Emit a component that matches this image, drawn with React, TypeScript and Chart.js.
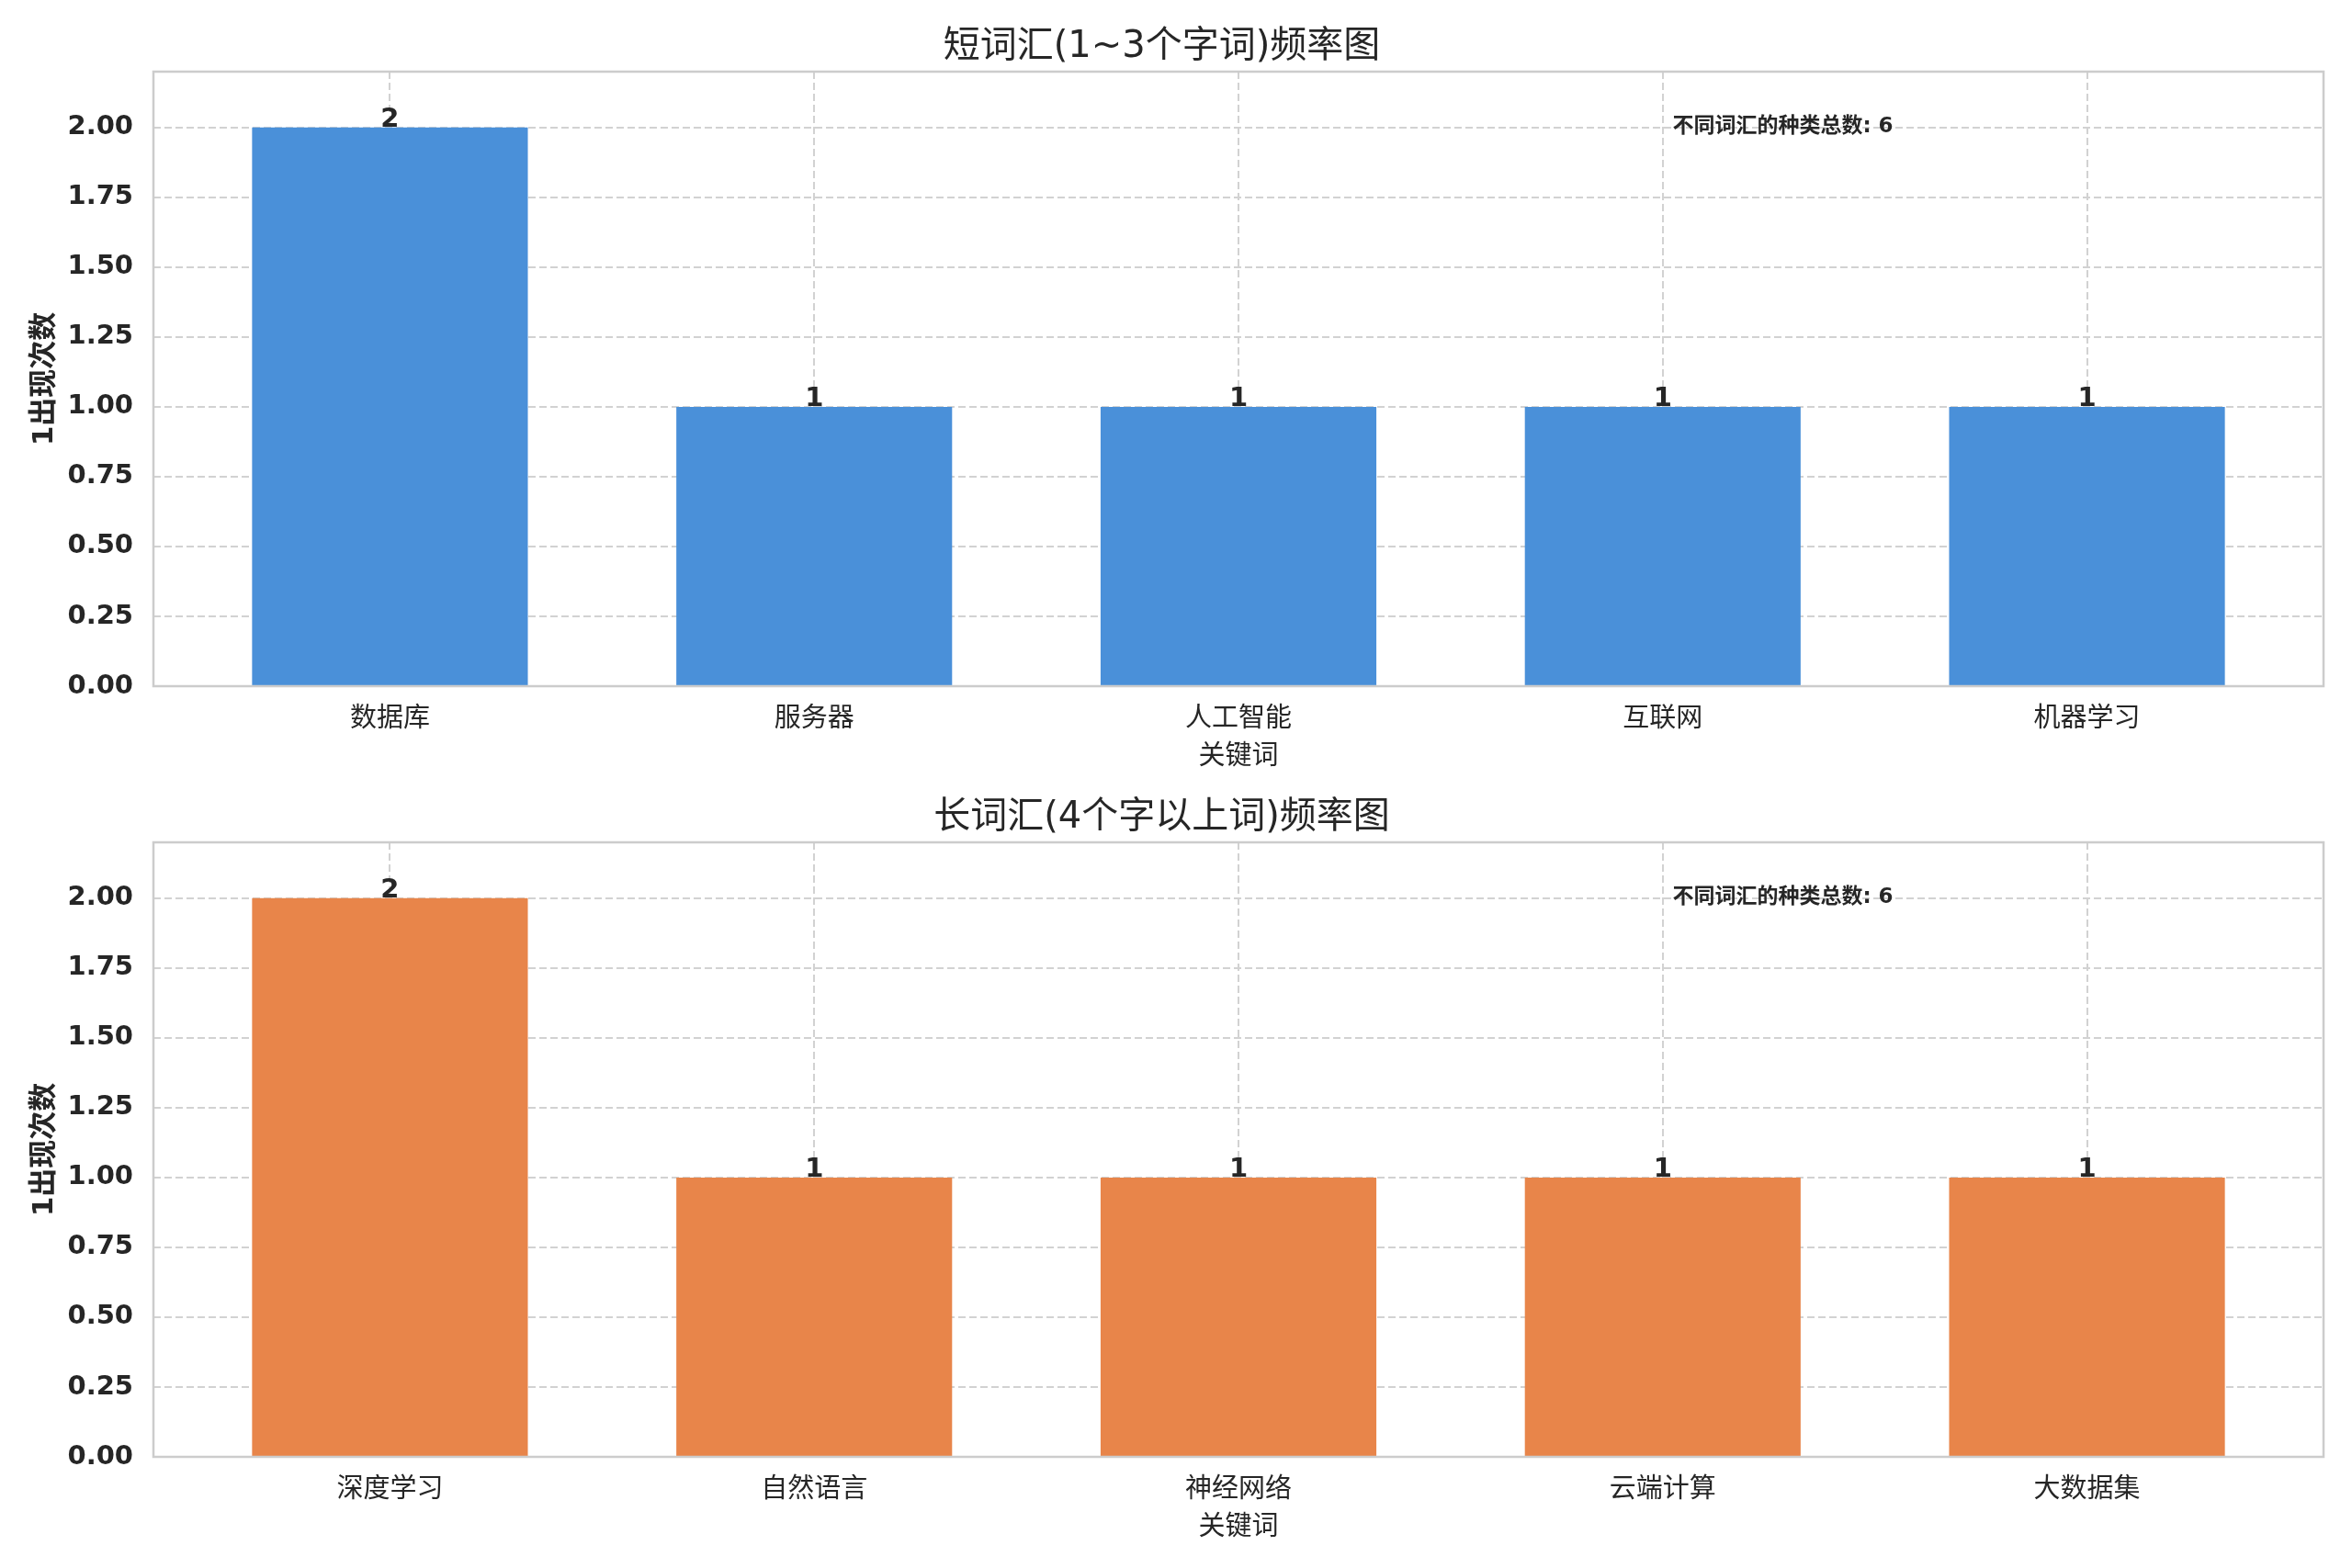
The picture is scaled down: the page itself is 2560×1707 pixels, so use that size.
import { useEffect, useRef } from "react"
import { Chart, registerables } from "chart.js"

Chart.register(...registerables)

// Chart data
const shortWords = ["数据库", "服务器", "人工智能", "互联网", "机器学习"]
const shortCounts = [2, 1, 1, 1, 1]
const longWords = ["深度学习", "自然语言", "神经网络", "云端计算", "大数据集"]
const longCounts = [2, 1, 1, 1, 1]
const yTicks = [0, 0.25, 0.5, 0.75, 1.0, 1.25, 1.5, 1.75, 2.0]

const shortTitle = "短词汇(1~3个字词)频率图"
const longTitle = "长词汇(4个字以上词)频率图"
const xAxisLabel = "关键词"
const yAxisLabel = "1出现次数"
const totalLabel = "不同词汇的种类总数"
const totalShort = 6
const totalLong = 6

const FONT = "'DejaVu Sans', 'Noto Sans CJK SC', sans-serif"
const TEXT = "#262626"
const GRID = "#d2d2d2"

// draws the full axes frame, the value labels and the note
const extrasPlugin = {
  id: "extras",
  afterDatasetsDraw(chart: any, _args: any, opts: any) {
    const ctx = chart.ctx
    const meta = chart.getDatasetMeta(0)
    const values = chart.data.datasets[0].data
    ctx.save()
    ctx.fillStyle = TEXT
    ctx.font = `bold 29px ${FONT}`
    ctx.textAlign = "center"
    ctx.textBaseline = "alphabetic"
    meta.data.forEach((bar: any, i: number) => {
      ctx.fillText(String(values[i].y), bar.x, bar.y - 1)
    })
    const { left, right, top, bottom } = chart.chartArea
    ctx.font = `bold 23px ${FONT}`
    ctx.textAlign = "left"
    ctx.textBaseline = "middle"
    ctx.fillText(`${totalLabel}: ${opts.total}`, left + 0.7 * (right - left), bottom - 0.91 * (bottom - top))
    ctx.strokeStyle = "#cccccc"
    ctx.lineWidth = 2.5
    ctx.strokeRect(left, top, right - left, bottom - top)
    ctx.restore()
  },
}

function BarPanel({ labels, counts, color, title, total, top }: any) {
  const canvasRef = useRef<HTMLCanvasElement>(null)
  const chartRef = useRef<Chart | null>(null)

  useEffect(() => {
    if (!canvasRef.current) return
    if (chartRef.current) chartRef.current.destroy()
    chartRef.current = new Chart(canvasRef.current, {
      type: "bar",
      data: {
        datasets: [
          {
            data: counts.map((v: number, i: number) => ({ x: i, y: v })),
            backgroundColor: color,
            borderWidth: 0,
            barPercentage: 0.65,
            categoryPercentage: 1,
          },
        ],
      },
      plugins: [extrasPlugin],
      options: {
        animation: false,
        responsive: false,
        devicePixelRatio: 1,
        layout: { padding: { left: 0, right: 31, top: 0, bottom: 0 } },
        plugins: {
          legend: { display: false },
          tooltip: { enabled: false },
          title: {
            display: true,
            text: title,
            color: TEXT,
            font: { family: FONT, size: 40, weight: "normal" },
            padding: { top: 28, bottom: 2 },
          },
          extras: { total },
        } as any,
        scales: {
          x: {
            type: "linear",
            offset: false,
            min: -0.5575,
            max: 4.5575,
            afterBuildTicks: (axis: any) => {
              axis.ticks = labels.map((_: string, i: number) => ({ value: i }))
            },
            afterFit: (axis: any) => {
              axis.height = 121
            },
            ticks: {
              callback: (v: any) => labels[v] ?? "",
              color: TEXT,
              font: { family: FONT, size: 29 },
              padding: 19,
              autoSkip: false,
              maxRotation: 0,
            },
            grid: { color: GRID, lineWidth: 2, drawTicks: false, offset: false },
            border: { display: false, dash: [8, 4] },
            title: {
              display: true,
              text: xAxisLabel,
              color: TEXT,
              font: { family: FONT, size: 29 },
              padding: { top: 0, bottom: 26 },
            },
          },
          y: {
            min: 0,
            max: 2.2,
            afterBuildTicks: (axis: any) => {
              axis.ticks = yTicks.map((v) => ({ value: v }))
            },
            afterFit: (axis: any) => {
              axis.width = 167
            },
            ticks: {
              callback: (v: any) => Number(v).toFixed(2),
              color: TEXT,
              font: { family: FONT, size: 29, weight: "bold" },
              padding: 22,
            },
            grid: { color: GRID, lineWidth: 2, drawTicks: false },
            border: { display: false, dash: [8, 4] },
            title: {
              display: true,
              text: yAxisLabel,
              color: TEXT,
              font: { family: FONT, size: 31, weight: "bold" },
              padding: { top: 30, bottom: 0 },
            },
          },
        },
      } as any,
    })
    return () => {
      if (chartRef.current) {
        chartRef.current.destroy()
        chartRef.current = null
      }
    }
  }, [labels, counts, color, title, total])

  return (
    <canvas
      ref={canvasRef}
      width={2560}
      height={868}
      style={{ position: "absolute", left: 0, top, width: 2560, height: 868 }}
    />
  )
}

export default function App() {
  return (
    <div
      style={{
        position: "absolute",
        left: 0,
        top: 0,
        width: 2560,
        height: 1707,
        background: "#ffffff",
        overflow: "hidden",
      }}
    >
      <BarPanel labels={shortWords} counts={shortCounts} color="#4a90d9" title={shortTitle} total={totalShort} top={0} />
      <BarPanel labels={longWords} counts={longCounts} color="#e8854a" title={longTitle} total={totalLong} top={839} />
    </div>
  )
}
